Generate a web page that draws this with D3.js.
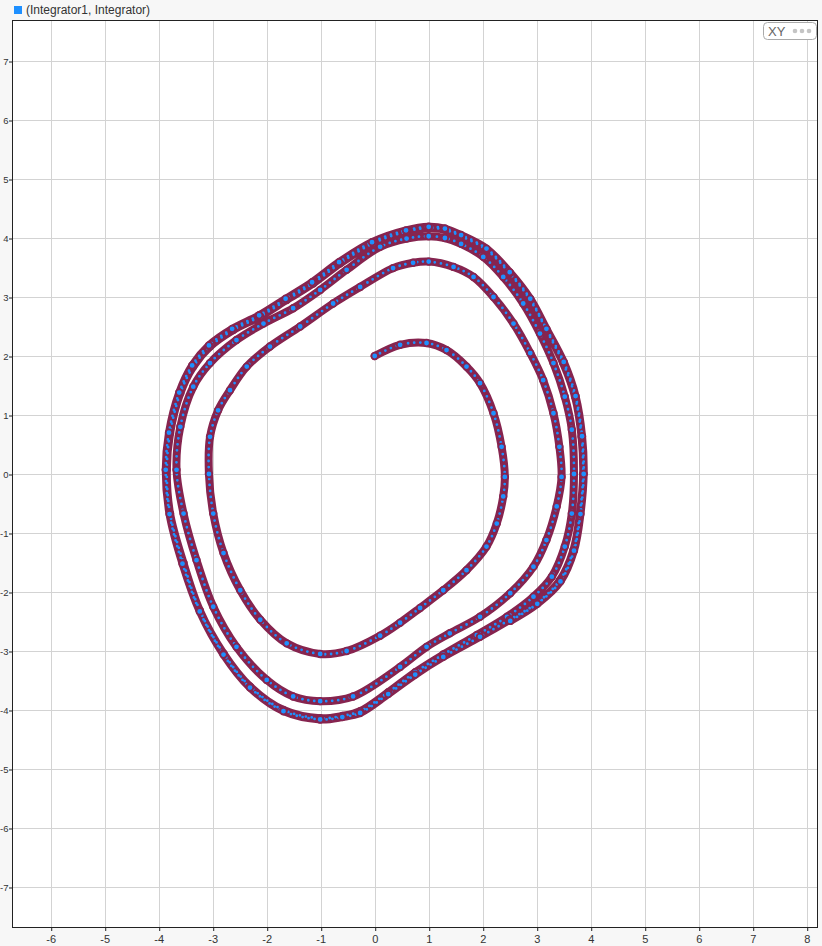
<!DOCTYPE html>
<html><head><meta charset="utf-8">
<script src="https://cdn.jsdelivr.net/npm/d3@7"></script>
<style>
html,body{margin:0;padding:0;background:#f7f7f7;overflow:hidden;}
svg{display:block;font-family:"Liberation Sans",Arial,sans-serif;}
</style></head>
<body>
<svg id="chart" width="822" height="946"></svg>
<script>
// ---- data ----
const seriesName = "(Integrator1, Integrator)";
const xTicks = [-6,-5,-4,-3,-2,-1,0,1,2,3,4,5,6,7,8];
const yTicks = [-7,-6,-5,-4,-3,-2,-1,0,1,2,3,4,5,6,7];
// trajectory x (Integrator1) and y (Integrator) values, in time order
const trajX = [
 0,0.47,0.96,1.33,1.7,1.95,2.2,2.35,2.41,2.38,2.26,2.07,1.7,1.27,0.84,0.47,0.1,-0.52,-1.01,-1.63,-2.12,-2.49,-2.8,-2.99,-3.07,-3.05,-2.9,-2.68,-2.37,-1.94,-1.38,-0.77,-0.27,0.34,0.71,1.0,
 1.46,1.83,2.2,2.57,2.88,3.12,3.31,3.42,3.46,3.37,3.18,2.94,2.51,1.95,1.39,0.96,0.47,-0.4,-1.01,-1.51,-2.0,-2.56,-2.99,-3.3,-3.54,-3.67,-3.6,-3.36,-3.05,-2.56,-2.06,-1.51,-1.01,-0.52,0.1,0.59,1.0,1.3,
 1.6,2.01,2.38,2.75,3.06,3.31,3.52,3.65,3.69,3.65,3.52,3.28,2.94,2.45,1.89,1.27,0.75,0.25,-0.27,-0.6,-1.01,-1.69,-2.31,-2.8,-3.24,-3.54,-3.79,-3.85,-3.79,-3.6,-3.36,-3.05,-2.62,-2.12,-1.63,-1.14,-0.64,-0.03,0.59,1.0,1.3,
 1.6,2.07,2.5,2.88,3.18,3.49,3.71,3.83,3.86,3.8,3.68,3.43,3.0,2.5,1.95,1.27,0.75,0.25,-0.27,-0.6,-1.01,-1.69,-2.31,-2.8,-3.24,-3.56,-3.8,-3.87,-3.81,-3.62,-3.38,-3.07,-2.64,-2.14,-1.65,-1.16,-0.66,-0.05,0.58,1.0,1.3,
 1.6,2.07,2.5,2.88,3.18,3.5,3.72,3.84,3.87,3.81,3.69,3.44,3.01,2.51
];
const trajY = [
 2.0,2.19,2.22,2.1,1.82,1.54,1.03,0.46,-0.05,-0.38,-0.84,-1.23,-1.63,-1.97,-2.27,-2.52,-2.74,-3.0,-3.05,-2.87,-2.47,-1.97,-1.34,-0.67,0.0,0.63,1.08,1.42,1.82,2.16,2.5,2.89,3.17,3.49,3.58,3.6,
 3.51,3.34,3.0,2.55,2.05,1.59,1.03,0.46,-0.05,-0.55,-1.12,-1.57,-2.02,-2.42,-2.7,-2.93,-3.27,-3.77,-3.85,-3.77,-3.49,-2.93,-2.25,-1.46,-0.67,0.07,0.8,1.48,1.88,2.27,2.55,2.81,3.12,3.46,3.85,3.99,4.03,4.0,
 3.9,3.68,3.34,2.89,2.38,1.88,1.31,0.75,0.0,-0.67,-1.23,-1.74,-2.08,-2.42,-2.73,-3.06,-3.36,-3.7,-4.02,-4.1,-4.14,-4.0,-3.6,-3.04,-2.31,-1.51,-0.67,0.07,0.69,1.37,1.82,2.16,2.44,2.67,2.95,3.23,3.57,3.91,4.11,4.17,4.14,
 4.03,3.8,3.4,2.95,2.44,1.88,1.31,0.63,0.0,-0.67,-1.29,-1.8,-2.19,-2.47,-2.76,-3.1,-3.4,-3.73,-4.05,-4.12,-4.16,-4.02,-3.62,-3.06,-2.33,-1.52,-0.68,0.07,0.7,1.38,1.84,2.18,2.46,2.69,2.97,3.25,3.59,3.93,4.13,4.19,4.16,
 4.05,3.82,3.42,2.97,2.46,1.9,1.32,0.64,0.0,-0.68,-1.3,-1.82,-2.2,-2.49
];

// ---- layout ----
const W = 822, H = 946;
const plot = {left: 12, top: 20, right: 818, bottom: 928};
const xDomain = [-6.717, 8.209];
const yDomain = [-7.695, 7.695];
const stroke = "#86244f", fill = "#1e90ff";

const svg = d3.select("#chart");
svg.append("rect").attr("width", W).attr("height", H).attr("fill", "#f7f7f7");

const x = d3.scaleLinear().domain(xDomain).range([plot.left, plot.right]);
const y = d3.scaleLinear().domain(yDomain).range([plot.bottom, plot.top]);

// plot background
svg.append("rect")
  .attr("x", plot.left).attr("y", plot.top)
  .attr("width", plot.right - plot.left).attr("height", plot.bottom - plot.top)
  .attr("fill", "#ffffff");

// grid
const grid = svg.append("g");
grid.selectAll("line.gx").data(xTicks).join("line")
  .attr("x1", d => Math.round(x(d)) + 0.5).attr("x2", d => Math.round(x(d)) + 0.5)
  .attr("y1", plot.top).attr("y2", plot.bottom)
  .attr("stroke", "#d3d3d3").attr("stroke-width", 1);
grid.selectAll("line.gy").data(yTicks).join("line")
  .attr("y1", d => Math.round(y(d)) + 0.5).attr("y2", d => Math.round(y(d)) + 0.5)
  .attr("x1", plot.left).attr("x2", plot.right)
  .attr("stroke", "#d3d3d3").attr("stroke-width", 1);

// axes
const fmt = d => String(d);
const xAxis = d3.axisBottom(x).tickValues(xTicks).tickSize(3).tickPadding(4).tickFormat(fmt);
const yAxis = d3.axisLeft(y).tickValues(yTicks).tickSize(3).tickPadding(0.5).tickFormat(fmt);
const gx = svg.append("g").attr("transform", `translate(0,${plot.bottom})`).call(xAxis);
const gy = svg.append("g").attr("transform", `translate(${plot.left},0)`).call(yAxis);
[gx, gy].forEach(g => {
  g.select(".domain").remove();
  g.selectAll(".tick line").attr("stroke", "#222");
  g.selectAll(".tick text").attr("fill", "#333")
    .style("font-family", "'Liberation Sans', Arial, sans-serif");
});
gx.selectAll(".tick text").style("font-size", "11px");
gy.selectAll(".tick text").style("font-size", "9.5px");
gx.selectAll(".tick line").attr("transform", "translate(0.5,0)");
gy.selectAll(".tick line").attr("transform", "translate(0,0.5)");

// clip for data
svg.append("clipPath").attr("id", "clip").append("rect")
  .attr("x", plot.left).attr("y", plot.top)
  .attr("width", plot.right - plot.left).attr("height", plot.bottom - plot.top);

const pts = trajX.map((v, i) => [v, trajY[i]]);
const line = d3.line().x(d => x(d[0])).y(d => y(d[1])).curve(d3.curveCatmullRom.alpha(0.5));
const dataG = svg.append("g").attr("clip-path", "url(#clip)");
dataG.append("path").attr("d", line(pts))
  .attr("fill", "none").attr("stroke", stroke).attr("stroke-width", 8)
  .attr("stroke-linecap", "round").attr("stroke-linejoin", "round");
dataG.append("path").attr("d", line(pts))
  .attr("fill", "none").attr("stroke", fill).attr("stroke-width", 2.8)
  .attr("stroke-dasharray", "0 6").attr("stroke-linecap", "round");
dataG.selectAll("circle").data(pts).join("circle")
  .attr("cx", d => x(d[0])).attr("cy", d => y(d[1])).attr("r", 3.3)
  .attr("fill", fill).attr("stroke", stroke).attr("stroke-width", 1.8);

// border
svg.append("rect")
  .attr("x", plot.left + 0.5).attr("y", plot.top + 0.5)
  .attr("width", plot.right - plot.left - 1).attr("height", plot.bottom - plot.top - 1)
  .attr("fill", "none").attr("stroke", "#222").attr("stroke-width", 1);

// legend / title
svg.append("rect").attr("x", 14).attr("y", 6).attr("width", 8).attr("height", 8).attr("fill", "#1e90ff");
svg.append("text").attr("x", 26).attr("y", 14).attr("fill", "#333")
  .style("font-size", "12px").text(seriesName);

// XY button
const btn = svg.append("g");
btn.append("rect").attr("x", 763.5).attr("y", 22.5).attr("width", 53).attr("height", 17).attr("rx", 4)
  .attr("fill", "#fff").attr("stroke", "#aaa");
btn.append("text").attr("x", 768).attr("y", 36).attr("fill", "#666").style("font-size", "13px").text("XY");
[795, 802, 809].forEach(cx => btn.append("circle").attr("cx", cx).attr("cy", 31).attr("r", 2.3).attr("fill", "#c4c4c4"));
</script>
</body></html>
